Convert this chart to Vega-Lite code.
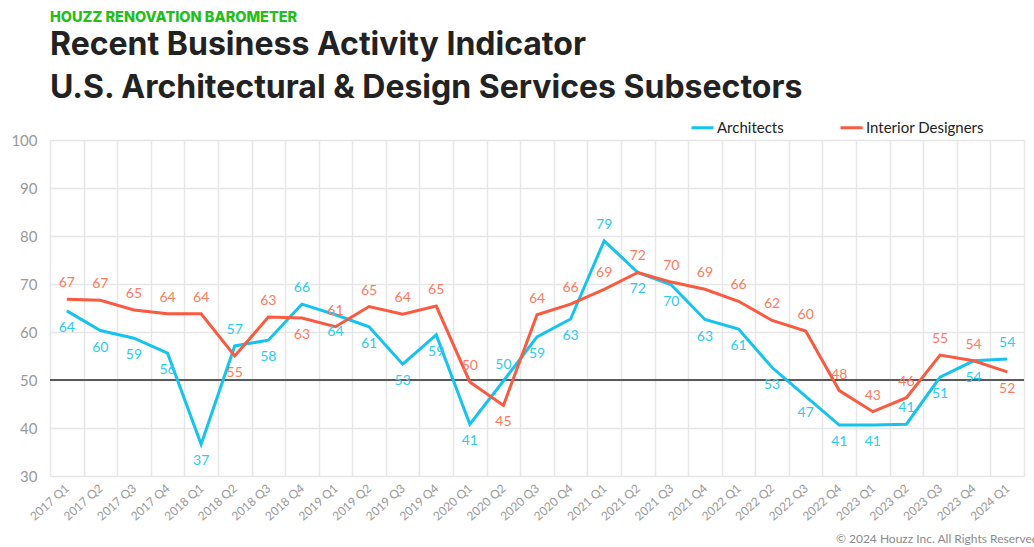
{
  "$schema": "https://vega.github.io/schema/vega-lite/v6.json",
  "autosize": {"type": "none"},
  "padding": {"left": 50, "top": 140, "right": 10, "bottom": 71},
  "width": 974,
  "height": 336,
  "background": "white",
  "config": {
    "font": "Lato",
    "view": {"stroke": null}
  },
  "title": {
    "text": "HOUZZ RENOVATION BAROMETER",
    "subtitle": ["Recent Business Activity Indicator", "U.S. Architectural & Design Services Subsectors"],
    "anchor": "start",
    "frame": "group",
    "font": "Inter",
    "fontSize": 14.5,
    "fontWeight": 800,
    "color": "#22be1a",
    "subtitleFont": "Inter",
    "subtitleFontSize": 32,
    "subtitleFontWeight": "bold",
    "subtitleColor": "#222222",
    "subtitleLineHeight": 43,
    "subtitlePadding": 5,
    "offset": 10
  },
  "data": {
    "values": [
      {"quarter": "2017 Q1", "series": "Architects", "value": 64.4, "side": "below"},
      {"quarter": "2017 Q2", "series": "Architects", "value": 60.3, "side": "below"},
      {"quarter": "2017 Q3", "series": "Architects", "value": 58.7, "side": "below"},
      {"quarter": "2017 Q4", "series": "Architects", "value": 55.6, "side": "below"},
      {"quarter": "2018 Q1", "series": "Architects", "value": 36.6, "side": "below"},
      {"quarter": "2018 Q2", "series": "Architects", "value": 57.1, "side": "above"},
      {"quarter": "2018 Q3", "series": "Architects", "value": 58.3, "side": "below"},
      {"quarter": "2018 Q4", "series": "Architects", "value": 65.8, "side": "above"},
      {"quarter": "2019 Q1", "series": "Architects", "value": 63.6, "side": "below"},
      {"quarter": "2019 Q2", "series": "Architects", "value": 61.1, "side": "below"},
      {"quarter": "2019 Q3", "series": "Architects", "value": 53.3, "side": "below"},
      {"quarter": "2019 Q4", "series": "Architects", "value": 59.4, "side": "below"},
      {"quarter": "2020 Q1", "series": "Architects", "value": 40.8, "side": "below"},
      {"quarter": "2020 Q2", "series": "Architects", "value": 49.8, "side": "above"},
      {"quarter": "2020 Q3", "series": "Architects", "value": 59.0, "side": "below"},
      {"quarter": "2020 Q4", "series": "Architects", "value": 62.7, "side": "below"},
      {"quarter": "2021 Q1", "series": "Architects", "value": 79.0, "side": "above"},
      {"quarter": "2021 Q2", "series": "Architects", "value": 72.4, "side": "below"},
      {"quarter": "2021 Q3", "series": "Architects", "value": 69.8, "side": "below"},
      {"quarter": "2021 Q4", "series": "Architects", "value": 62.6, "side": "below"},
      {"quarter": "2022 Q1", "series": "Architects", "value": 60.6, "side": "below"},
      {"quarter": "2022 Q2", "series": "Architects", "value": 52.6, "side": "below"},
      {"quarter": "2022 Q3", "series": "Architects", "value": 46.6, "side": "below"},
      {"quarter": "2022 Q4", "series": "Architects", "value": 40.6, "side": "below"},
      {"quarter": "2023 Q1", "series": "Architects", "value": 40.6, "side": "below"},
      {"quarter": "2023 Q2", "series": "Architects", "value": 40.8, "side": "above"},
      {"quarter": "2023 Q3", "series": "Architects", "value": 50.6, "side": "below"},
      {"quarter": "2023 Q4", "series": "Architects", "value": 54.0, "side": "below"},
      {"quarter": "2024 Q1", "series": "Architects", "value": 54.4, "side": "above"},
      {"quarter": "2017 Q1", "series": "Interior Designers", "value": 66.8, "side": "above"},
      {"quarter": "2017 Q2", "series": "Interior Designers", "value": 66.6, "side": "above"},
      {"quarter": "2017 Q3", "series": "Interior Designers", "value": 64.6, "side": "above"},
      {"quarter": "2017 Q4", "series": "Interior Designers", "value": 63.8, "side": "above"},
      {"quarter": "2018 Q1", "series": "Interior Designers", "value": 63.8, "side": "above"},
      {"quarter": "2018 Q2", "series": "Interior Designers", "value": 55.0, "side": "below"},
      {"quarter": "2018 Q3", "series": "Interior Designers", "value": 63.1, "side": "above"},
      {"quarter": "2018 Q4", "series": "Interior Designers", "value": 62.9, "side": "below"},
      {"quarter": "2019 Q1", "series": "Interior Designers", "value": 61.1, "side": "above"},
      {"quarter": "2019 Q2", "series": "Interior Designers", "value": 65.3, "side": "above"},
      {"quarter": "2019 Q3", "series": "Interior Designers", "value": 63.7, "side": "above"},
      {"quarter": "2019 Q4", "series": "Interior Designers", "value": 65.4, "side": "above"},
      {"quarter": "2020 Q1", "series": "Interior Designers", "value": 49.6, "side": "above"},
      {"quarter": "2020 Q2", "series": "Interior Designers", "value": 44.7, "side": "below"},
      {"quarter": "2020 Q3", "series": "Interior Designers", "value": 63.6, "side": "above"},
      {"quarter": "2020 Q4", "series": "Interior Designers", "value": 65.8, "side": "above"},
      {"quarter": "2021 Q1", "series": "Interior Designers", "value": 68.9, "side": "above"},
      {"quarter": "2021 Q2", "series": "Interior Designers", "value": 72.4, "side": "above"},
      {"quarter": "2021 Q3", "series": "Interior Designers", "value": 70.4, "side": "above"},
      {"quarter": "2021 Q4", "series": "Interior Designers", "value": 68.9, "side": "above"},
      {"quarter": "2022 Q1", "series": "Interior Designers", "value": 66.4, "side": "above"},
      {"quarter": "2022 Q2", "series": "Interior Designers", "value": 62.4, "side": "above"},
      {"quarter": "2022 Q3", "series": "Interior Designers", "value": 60.2, "side": "above"},
      {"quarter": "2022 Q4", "series": "Interior Designers", "value": 47.8, "side": "above"},
      {"quarter": "2023 Q1", "series": "Interior Designers", "value": 43.4, "side": "above"},
      {"quarter": "2023 Q2", "series": "Interior Designers", "value": 46.3, "side": "above"},
      {"quarter": "2023 Q3", "series": "Interior Designers", "value": 55.2, "side": "above"},
      {"quarter": "2023 Q4", "series": "Interior Designers", "value": 54.0, "side": "above"},
      {"quarter": "2024 Q1", "series": "Interior Designers", "value": 51.7, "side": "below"}
    ]
  },
  "encoding": {
    "x": {
      "field": "quarter",
      "type": "ordinal",
      "sort": null,
      "bandPosition": 0.5,
      "scale": {"type": "band", "paddingInner": 0, "paddingOuter": 0},
      "axis": {
        "title": "© 2024 Houzz Inc. All Rights Reserved",
        "titleFont": "Lato",
        "titleFontSize": 12,
        "titleFontWeight": "normal",
        "titleColor": "#8a8a8a",
        "titleAnchor": "end",
        "titleAlign": "right",
        "titleX": 988,
        "titleY": 62,
        "titleBaseline": "middle",
        "tickBand": "extent",
        "grid": true,
        "gridColor": "#e6e6e6",
        "gridWidth": 1.5,
        "ticks": false,
        "domain": false,
        "labelAngle": -42,
        "labelAlign": "right",
        "labelBaseline": "middle",
        "labelPadding": 10,
        "labelFontSize": 12,
        "labelColor": "#999999",
        "labelFont": "Lato"
      }
    },
    "y": {
      "field": "value",
      "type": "quantitative",
      "scale": {"domain": [30, 100], "nice": false, "zero": false},
      "axis": {
        "title": null,
        "values": [30, 40, 50, 60, 70, 80, 90, 100],
        "grid": true,
        "gridColor": "#e6e6e6",
        "gridWidth": 1.5,
        "ticks": false,
        "domain": false,
        "labelPadding": 13,
        "labelFontSize": 15,
        "labelColor": "#999999",
        "labelFont": "Lato"
      }
    }
  },
  "layer": [
    {
      "mark": {"type": "rule", "color": "#5a5a5a", "strokeWidth": 2},
      "encoding": {"y": {"datum": 50}, "x": null}
    },
    {
      "mark": {"type": "line", "strokeWidth": 3},
      "encoding": {
        "color": {
          "field": "series",
          "type": "nominal",
          "scale": {"domain": ["Architects", "Interior Designers"], "range": ["#16c3ee", "#fa5a40"]},
          "legend": {
            "title": null,
            "orient": "none",
            "direction": "horizontal",
            "legendX": 640,
            "legendY": -25,
            "symbolType": "stroke",
            "symbolSize": 484,
            "symbolStrokeWidth": 3,
            "labelFontSize": 15,
            "labelColor": "#222222",
            "labelFont": "Lato",
            "labelOffset": 2,
            "columnPadding": 50
          }
        }
      }
    },
    {
      "transform": [{"filter": "datum.side === 'above'"}],
      "mark": {"type": "text", "dy": -16, "fontSize": 14, "font": "Lato"},
      "encoding": {
        "text": {"field": "value", "type": "quantitative", "format": ".0f"},
        "color": {
          "field": "series",
          "type": "nominal",
          "scale": {"domain": ["Architects", "Interior Designers"], "range": ["#2ccbf0", "#ff7a60"]},
          "legend": null
        }
      }
    },
    {
      "transform": [{"filter": "datum.side === 'below'"}],
      "mark": {"type": "text", "dy": 17, "fontSize": 14, "font": "Lato"},
      "encoding": {
        "text": {"field": "value", "type": "quantitative", "format": ".0f"},
        "color": {
          "field": "series",
          "type": "nominal",
          "scale": {"domain": ["Architects", "Interior Designers"], "range": ["#2ccbf0", "#ff7a60"]},
          "legend": null
        }
      }
    }
  ],
  "resolve": {"scale": {"color": "independent"}}
}
